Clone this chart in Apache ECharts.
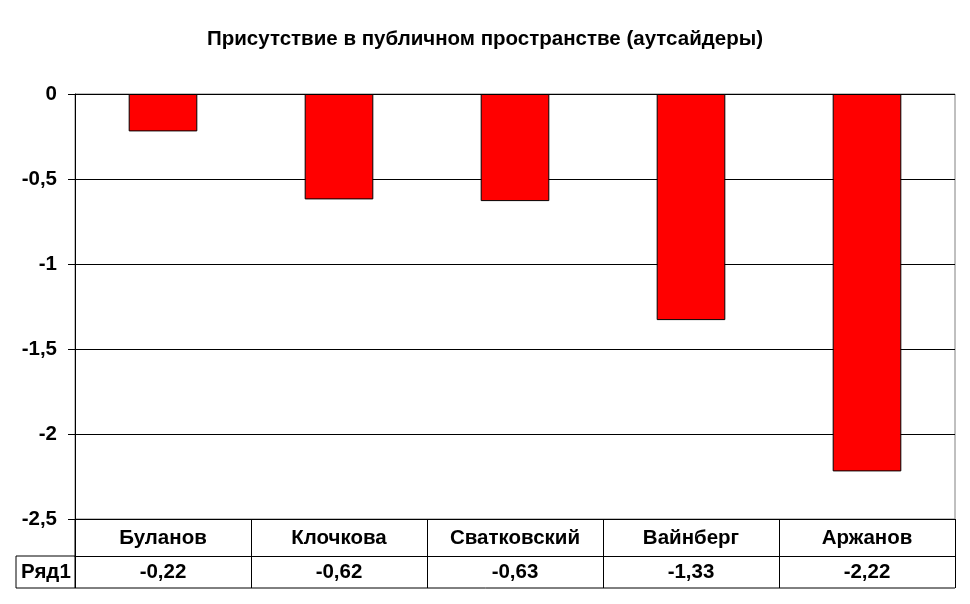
<!DOCTYPE html>
<html>
<head>
<meta charset="utf-8">
<script src="https://cdn.jsdelivr.net/npm/echarts@6/dist/echarts.min.js"></script>
<style>html,body{margin:0;padding:0;background:#fff}#c{width:970px;height:604px}</style>
</head>
<body>
<div id="c"></div>
<script>
const title = 'Присутствие в публичном пространстве (аутсайдеры)';
const categories = ['Буланов', 'Клочкова', 'Сватковский', 'Вайнберг', 'Аржанов'];
const seriesName = 'Ряд1';
const values = [-0.22, -0.62, -0.63, -1.33, -2.22];
const yTicks = [0, -0.5, -1, -1.5, -2, -2.5];

const FONT = '"Liberation Sans", Arial, sans-serif';
const fmt = v => String(v).replace('.', ',');

// layout constants
const L = 75, R = 15, T = 94, B = 85;
const W = 970, H = 604;
const rowH1 = 37, rowH2 = 32;
const tableLeft = 16;
const plotBottom = H - B;

const chart = echarts.init(document.getElementById('c'), null, {renderer: 'canvas'});
chart.setOption({
  animation: false,
  backgroundColor: '#fff',
  title: {
    text: title, left: 'center', top: 24,
    textStyle: {fontFamily: FONT, fontWeight: 'bold', fontSize: 20.5, color: '#000'}
  },
  grid: {left: L, right: R, top: T, bottom: B, show: true, borderColor: '#808080', borderWidth: 1},
  yAxis: {
    type: 'value', min: -2.5, max: 0, interval: 0.5,
    axisLine: {show: true, lineStyle: {color: '#000', width: 1}},
    axisTick: {show: true, length: 7, lineStyle: {color: '#000'}},
    splitLine: {show: true, lineStyle: {color: '#000', width: 1}},
    axisLabel: {
      margin: 18, color: '#000', fontFamily: FONT, fontWeight: 'bold', fontSize: 20.5,
      formatter: v => fmt(v)
    }
  },
  xAxis: [
    {
      type: 'category', data: categories, position: 'bottom', boundaryGap: true,
      axisLine: {show: true, onZero: false, lineStyle: {color: '#000', width: 1}},
      axisTick: {show: true, length: rowH1, alignWithLabel: false, lineStyle: {color: '#000'}},
      axisLabel: {margin: 9, color: '#000', fontFamily: FONT, fontWeight: 'bold', fontSize: 20.5}
    },
    {
      type: 'category', data: values.map(fmt), position: 'bottom', offset: rowH1, boundaryGap: true,
      axisLine: {show: true, onZero: false, lineStyle: {color: '#000', width: 1}},
      axisTick: {show: true, length: rowH2, alignWithLabel: false, lineStyle: {color: '#000'}},
      axisLabel: {margin: 6, color: '#000', fontFamily: FONT, fontWeight: 'bold', fontSize: 20.5}
    }
  ],
  series: [{
    name: seriesName, type: 'bar', data: values, xAxisIndex: 0,
    barWidth: '39%',
    itemStyle: {color: '#ff0000', borderColor: '#000', borderWidth: 1}
  }],
  graphic: [
    {type: 'line', shape: {x1: tableLeft, y1: plotBottom + rowH1, x2: L, y2: plotBottom + rowH1}, style: {stroke: '#000', lineWidth: 1}},
    {type: 'line', shape: {x1: tableLeft, y1: plotBottom + rowH1 + rowH2, x2: W - R, y2: plotBottom + rowH1 + rowH2}, style: {stroke: '#000', lineWidth: 1}},
    {type: 'line', shape: {x1: tableLeft, y1: plotBottom + rowH1, x2: tableLeft, y2: plotBottom + rowH1 + rowH2}, style: {stroke: '#000', lineWidth: 1}},
    {type: 'line', shape: {x1: L, y1: plotBottom, x2: L, y2: plotBottom + rowH1 + rowH2}, style: {stroke: '#000', lineWidth: 1}},
    {type: 'text', left: tableLeft + 5, top: plotBottom + rowH1 + 6,
      style: {text: seriesName, fill: '#000', font: 'bold 20.5px ' + FONT}}
  ]
});
</script>
</body>
</html>
